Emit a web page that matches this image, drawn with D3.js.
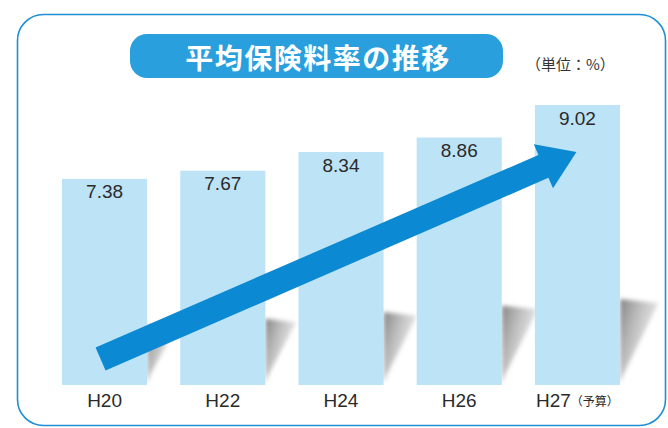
<!DOCTYPE html>
<html>
<head>
<meta charset="utf-8">
<script src="https://cdn.jsdelivr.net/npm/d3@7"></script>
<style>
  html, body { margin: 0; padding: 0; background: #fff; }
  svg { display: block; }
</style>
</head>
<body>
<div class="chart"></div>
<script>
// data
const years = ['H20', 'H22', 'H24', 'H26', 'H27']
const yearNotes = ['', '', '', '', '（予算）']
const rates = [7.38, 7.67, 8.34, 8.86, 9.02]
const title = '平均保険料率の推移'
const unitLabel = '（単位：%）'

const width = 668, height = 428
const baseY = 385

const svg = d3.select('.chart')
    .append('svg')
    .attr('width', width)
    .attr('height', height)

const defs = svg.append('defs')

const shadowGrad = defs.append('linearGradient')
    .attr('id', 'shadowGrad')
    .attr('x1', 0).attr('y1', 0.1).attr('x2', 1).attr('y2', 0.7)
shadowGrad.append('stop').attr('offset', '0%').attr('stop-color', '#767676').attr('stop-opacity', 0.85)
shadowGrad.append('stop').attr('offset', '100%').attr('stop-color', '#c4c4c4').attr('stop-opacity', 0.2)

defs.append('filter').attr('id', 'soft')
    .append('feGaussianBlur').attr('stdDeviation', 2.2)

// frame
svg.append('rect')
    .attr('x', 17.5).attr('y', 14.5)
    .attr('width', 648).attr('height', 411)
    .attr('rx', 26).attr('ry', 26)
    .attr('fill', '#fff')
    .attr('stroke', '#1e8fd5')
    .attr('stroke-width', 1.6)

// title pill
svg.append('rect')
    .attr('x', 130).attr('y', 34)
    .attr('width', 373).attr('height', 44)
    .attr('rx', 17)
    .attr('fill', '#29a0dd')

svg.append('text')
    .attr('x', 318).attr('y', 57)
    .attr('text-anchor', 'middle')
    .attr('dominant-baseline', 'central')
    .attr('fill', '#fff')
    .style('font-family', '"Noto Sans CJK JP", sans-serif')
    .style('font-size', '28px')
    .style('font-weight', 'bold')
    .style('letter-spacing', '1.5px')
    .text(title)

svg.append('text')
    .attr('x', 526).attr('y', 63)
    .attr('dominant-baseline', 'central')
    .attr('fill', '#333')
    .style('font-family', '"Noto Sans CJK JP", sans-serif')
    .style('font-size', '15px')
    .text(unitLabel)

// scales
const x = d3.scaleBand()
    .domain(years)
    .range([62, 620])
    .paddingInner(0.28)
    .paddingOuter(0)

// the budget bar (H27) is drawn taller than true scale in the original
const y = d3.scaleLinear()
    .domain([0, 8.86, 9.02])
    .range([baseY, baseY - 247.5, baseY - 280])

const bw = x.bandwidth()

// cast shadows to the right of each bar
svg.append('g')
    .selectAll('path')
    .data(years)
    .join('path')
    .attr('d', (d, i) => {
        const x0 = x(d) + bw
        const h = 60 + 6.5 * i
        const w = 28 + 2.6 * i
        return d3.line()([
            [x0, baseY - h],
            [x0 + w, baseY - h + 4],
            [x0 + 4, baseY - 12],
            [x0, baseY - 2]
        ]) + 'Z'
    })
    .attr('fill', 'url(#shadowGrad)')
    .attr('filter', 'url(#soft)')

// bars
svg.append('g')
    .selectAll('rect')
    .data(rates)
    .join('rect')
    .attr('x', (d, i) => x(years[i]))
    .attr('y', d => y(d))
    .attr('width', bw)
    .attr('height', d => baseY - y(d))
    .attr('fill', '#bde3f7')

// value labels
svg.append('g')
    .selectAll('text')
    .data(rates)
    .join('text')
    .attr('x', (d, i) => x(years[i]) + bw / 2)
    .attr('y', d => y(d) + 13)
    .attr('text-anchor', 'middle')
    .attr('dominant-baseline', 'central')
    .attr('fill', '#2a2a2a')
    .style('font-family', '"Liberation Sans", Arial, sans-serif')
    .style('font-size', '19px')
    .text(d => d.toFixed(2))

// category labels
const cat = svg.append('g')
    .selectAll('text')
    .data(years)
    .join('text')
    .attr('x', d => x(d) + bw / 2)
    .attr('y', 400)
    .attr('text-anchor', 'middle')
    .attr('dominant-baseline', 'central')
    .attr('fill', '#2a2a2a')
    .style('font-family', '"Liberation Sans", Arial, sans-serif')
    .style('font-size', '19px')

cat.append('tspan').text(d => d)
cat.append('tspan')
    .style('font-family', '"Noto Sans CJK JP", sans-serif')
    .style('font-size', '12px')
    .text((d, i) => yearNotes[i])

// rising arrow from the first bar to the last
const tail = [x(years[0]) + bw / 2 - 4, baseY - 26]
const tip = [x(years[years.length - 1]) + bw / 2 - 1, y(rates[rates.length - 1]) + 47]
const len = Math.hypot(tip[0] - tail[0], tip[1] - tail[1])
const ux = (tip[0] - tail[0]) / len, uy = (tip[1] - tail[1]) / len
const nx = -uy, ny = ux
const shaft = 12.5, headW = 24, headL = 36
const hb = [tip[0] - ux * headL, tip[1] - uy * headL]
const pt = (p, s) => [p[0] + nx * s, p[1] + ny * s]

svg.append('path')
    .attr('d', d3.line()([
        pt(tail, -shaft), pt(hb, -shaft), pt(hb, -headW), tip,
        pt(hb, headW), pt(hb, shaft), pt(tail, shaft)
    ]) + 'Z')
    .attr('fill', '#0b89d2')
</script>
</body>
</html>
